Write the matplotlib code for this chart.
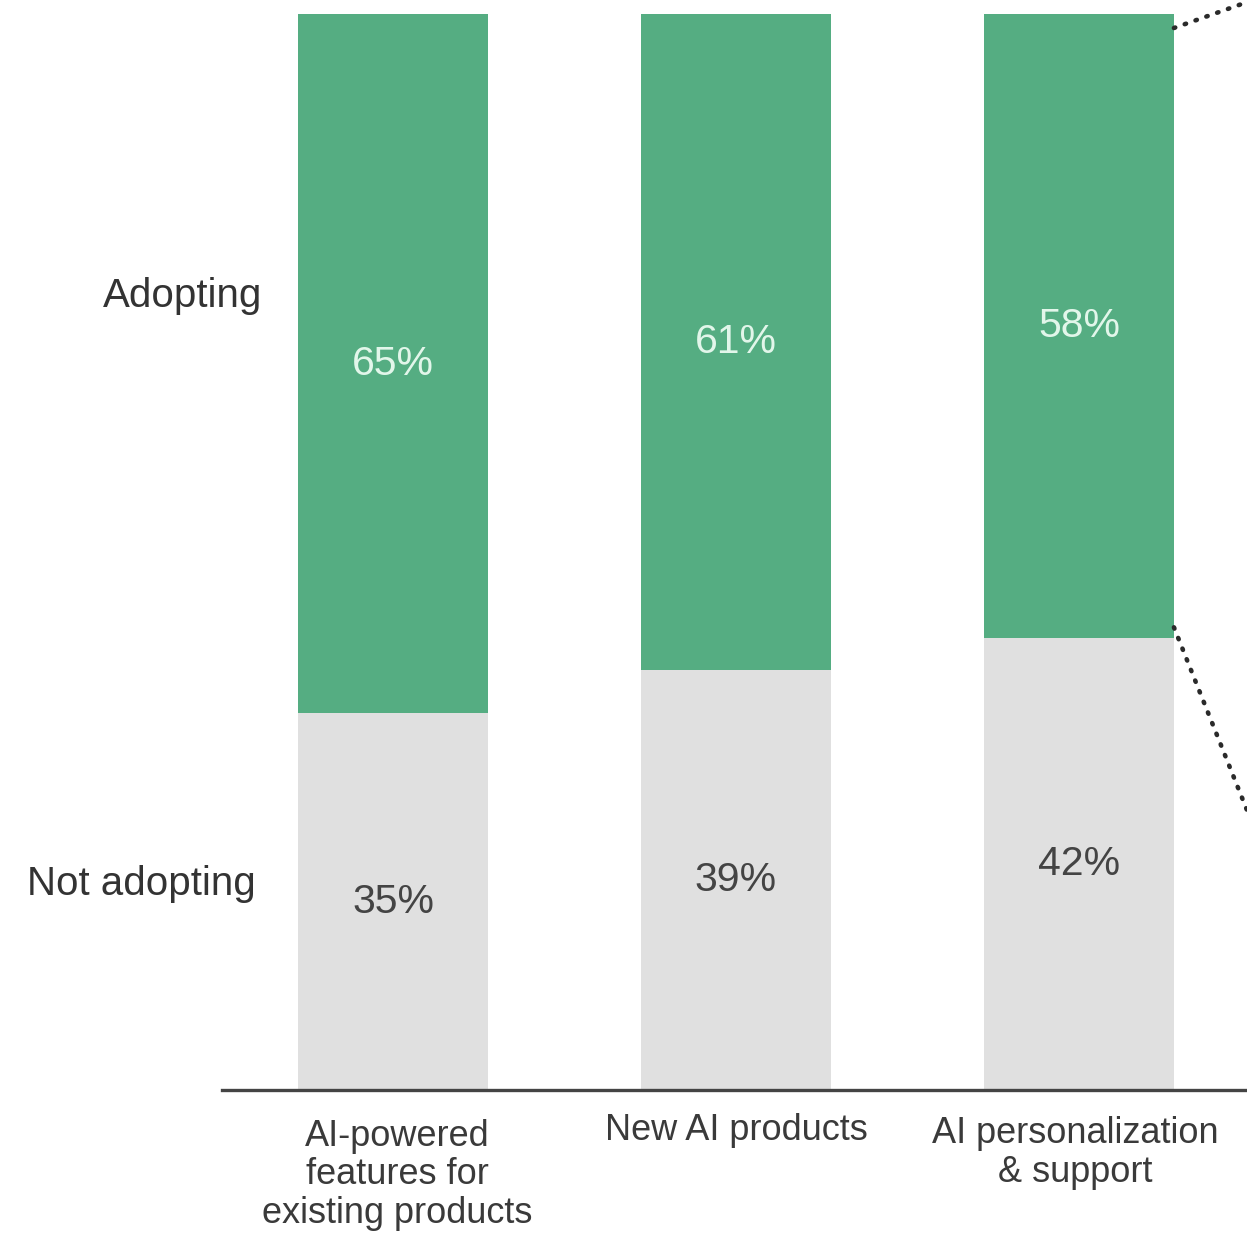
import matplotlib.pyplot as plt

# adoption shares per AI initiative (percent)
categories = ["AI-powered\nfeatures for\nexisting products", "New AI products",
              "AI personalization\n& support"]
adopting = [65, 61, 58]
not_adopting = [35, 39, 42]
row_labels = ["Adopting", "Not adopting"]

green = "#55ad82"
grey = "#e0e0e0"

plt.rcParams['font.family'] = ['Liberation Sans', 'DejaVu Sans']

fig = plt.figure(figsize=(12.47, 12.34), dpi=100)
ax = fig.add_axes([222 / 1247, 144 / 1234, 1025 / 1247, 1076 / 1234])

x = range(len(categories))
width = 190 / 343
ax.bar(x, not_adopting, width, color=grey, linewidth=0)
ax.bar(x, adopting, width, bottom=not_adopting, color=green, linewidth=0)

for i in x:
    ax.text(i, not_adopting[i] / 2, f"{not_adopting[i]}%", ha="center", va="center",
            fontsize=29.5, color="#444444")
    ax.text(i, not_adopting[i] + adopting[i] / 2, f"{adopting[i]}%", ha="center",
            va="center", fontsize=29.5, color="#e2f6ea")

ax.set_xlim(-0.4985, 2.49)
ax.set_ylim(0, 100)
for s in ["top", "left", "right"]:
    ax.spines[s].set_visible(False)
ax.spines["bottom"].set_linewidth(2.4)
ax.spines["bottom"].set_color("#444444")
ax.set_yticks([])
ax.set_xticks([])

# category names under the baseline
label_y = [-2.65, -2.1, -2.45]
for i, name in enumerate(categories):
    ax.text(i + 0.012 * (1 - i), label_y[i], name, ha="center", va="top", fontsize=26,
            color="#3a3a3a", linespacing=1.13)

# row labels on the left
ax.text(-0.38, 73.8, row_labels[0], ha="right", va="center", fontsize=29,
        color="#333333", clip_on=False)
ax.text(-0.40, 19.1, row_labels[1], ha="right", va="center", fontsize=29,
        color="#333333", clip_on=False)

# dotted callout lines leaving the third bar
edge = 2 + width / 2
ax.plot([edge, 2.49], [98.7, 101.1], ls=(0, (0.3, 2.2)), lw=3.3, color="#2a2a2a",
        dash_capstyle="round", clip_on=False)
ax.plot([edge, 2.49], [43.0, 26.0], ls=(0, (0.3, 2.2)), lw=3.3, color="#2a2a2a",
        dash_capstyle="round", clip_on=False)

fig.savefig("out.png", dpi=100, facecolor="white")
